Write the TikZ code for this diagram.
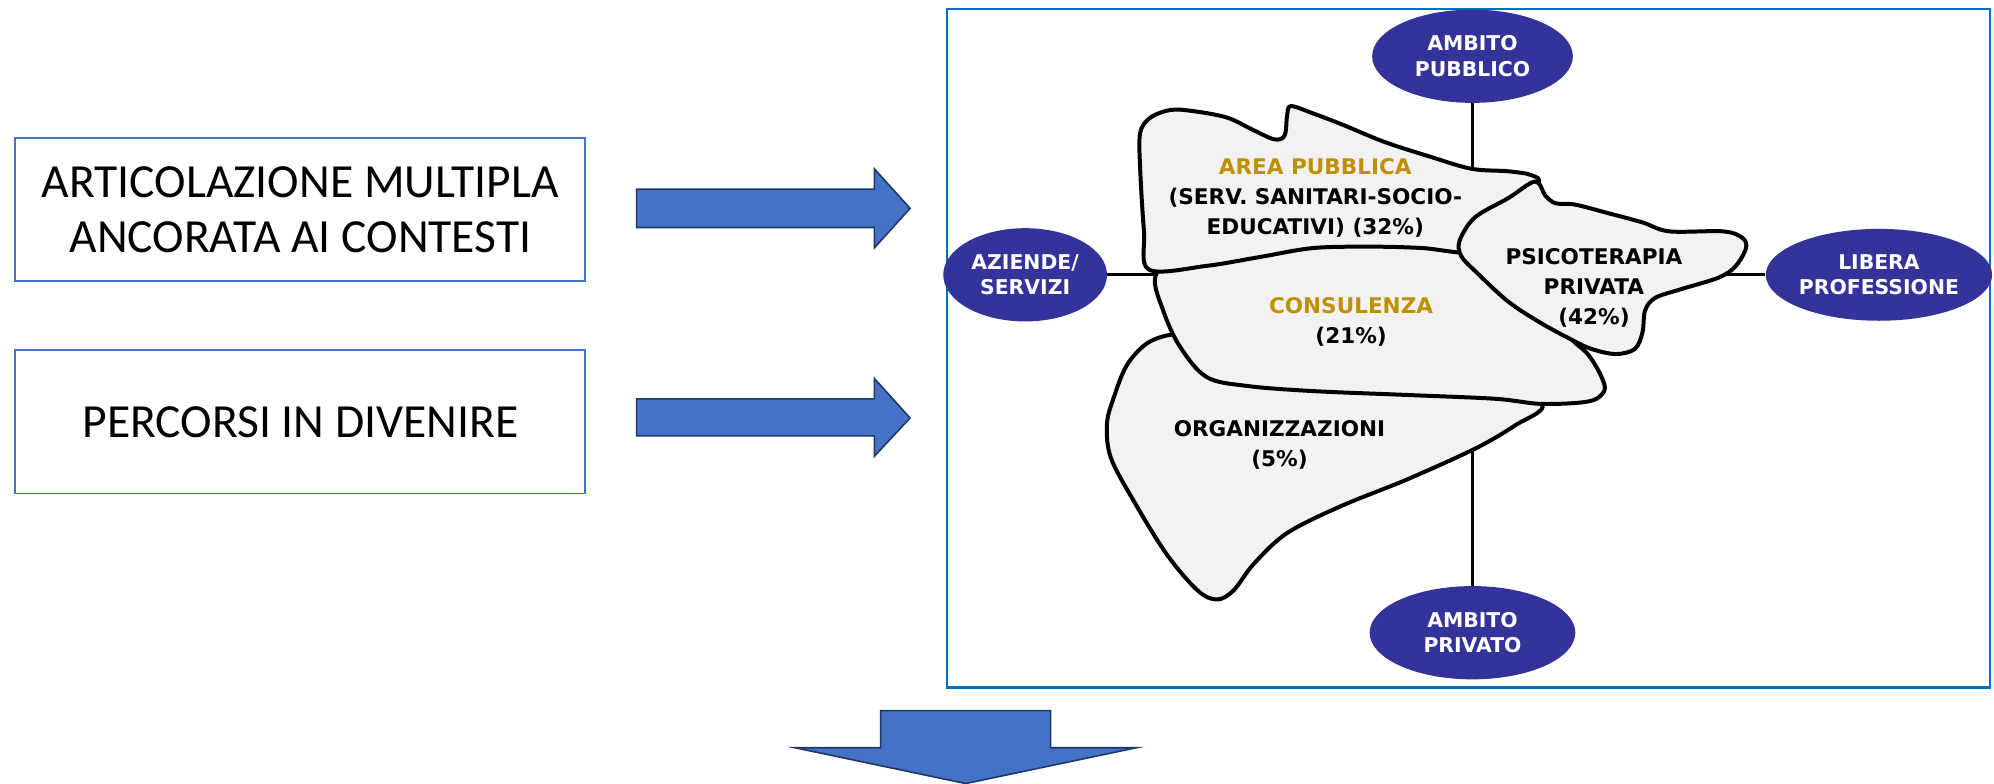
\documentclass[tikz,border=0pt]{standalone}
\usepackage{fontspec}
\setmainfont{Carlito}
\newfontfamily\blobfont{DejaVu Sans}
\usetikzlibrary{shapes.geometric,backgrounds}
\definecolor{arrowblue}{HTML}{4472C4}
\definecolor{arrowedge}{HTML}{1F3864}
\definecolor{frameblue}{HTML}{0070C0}
\definecolor{ambitoblue}{HTML}{333399}
\definecolor{areagold}{HTML}{BF9000}
\definecolor{blobgray}{HTML}{F2F2F2}
\tikzset{
  textbox/.style={draw=arrowblue, line width=0.9pt, minimum width=285.4pt, minimum height=71.7pt, align=center, font=\fontsize{23.8}{27.8}\selectfont},
  blockarrow/.style={fill=arrowblue, draw=arrowedge, line width=0.8pt, line join=miter},
  ambito/.style={ellipse, fill=ambitoblue, text=white, inner sep=0pt, align=center, font=\blobfont\bfseries\fontsize{10.2}{12.7}\selectfont},
  area/.style={fill=blobgray, draw=black, line width=2pt, line join=round},
  arealabel/.style={align=center, font=\blobfont\bfseries\fontsize{10.8}{15}\selectfont},
  axis/.style={draw=black, line width=1.65pt}
}
\begin{document}
\begin{tikzpicture}[x=0.64pt, y=-0.64pt]
\useasboundingbox (0,0) rectangle (1560,612.6);

\node[textbox] (articolazione) at (235,164) {ARTICOLAZIONE MULTIPLA\\ANCORATA AI CONTESTI};
\node[textbox] (percorsi) at (235,330) {PERCORSI IN DIVENIRE};

\draw[blockarrow] (498,148) -- (684,148) -- (684,132) -- (712,163) -- (684,194) -- (684,178) -- (498,178) -- cycle;
\draw[blockarrow] (498,312) -- (684,312) -- (684,296) -- (712,327) -- (684,357) -- (684,341) -- (498,341) -- cycle;
\draw[blockarrow] (689,556) -- (822,556) -- (822,585) -- (889,585) -- (755.5,613) -- (622,585) -- (689,585) -- cycle;

\draw[frameblue, line width=1.2pt] (741,7) rectangle (1557,538);

\node[ambito, minimum width=100.5pt, minimum height=46.7pt] (pubblico) at (1152,44) {AMBITO\\PUBBLICO};
\node[ambito, minimum width=103pt, minimum height=46.7pt] (privato) at (1152,495) {AMBITO\\PRIVATO};
\node[ambito, minimum width=82pt, minimum height=46.7pt] (aziende) at (802,215) {AZIENDE/\\SERVIZI};
\node[ambito, minimum width=110pt, minimum height=46pt] (libera) at (1470,215) {LIBERA\\PROFESSIONE};

\draw[area] plot[smooth cycle, tension=0.55] coordinates {(925,262) (900,267) (882,285) (871,312) (866,332) (869,358) (887,392) (913,434) (937,462) (952,469) (965,462) (981,441) (1007,417) (1049,396) (1101,375) (1154,351) (1185,333) (1206,316) (1150,298) (1000,290) (945,278)};
\draw[area] plot[smooth cycle, tension=0.55] coordinates {(904,216) (910,243) (923,271) (944,295) (976,302) (1028,306) (1101,309) (1170,312) (1206,316) (1243,314) (1255,306) (1253,295) (1243,278) (1230,266) (1195,232) (1152,199) (1090,184) (1000,189) (925,198)};
\draw[area] plot[smooth cycle, tension=0.55] coordinates {(899,211) (895,181) (892,132) (892,104) (900,92) (916,86) (934,87) (960,92) (981,102) (997,109) (1005,106) (1007,90) (1010,83) (1028,89) (1049,97) (1083,111) (1117,122) (1151,132) (1180,134) (1198,137) (1203,144) (1176,170) (1160,197) (1112,194) (1075,193) (1028,194) (986,201) (944,208)};
\draw[area] plot[smooth cycle, tension=0.55] coordinates {(1201,142) (1209,153) (1217,159) (1232,160) (1259,167) (1285,174) (1306,181) (1348,181) (1363,186) (1366,194) (1358,208) (1345,217) (1316,226) (1295,233) (1287,243) (1285,260) (1279,273) (1264,277) (1245,273) (1230,266) (1206,253) (1180,236) (1154,212) (1143,200) (1142,188) (1154,170) (1180,155)};

\node[arealabel] (pubblica) at (1029,155) {\textcolor{areagold}{AREA PUBBLICA}\\(SERV. SANITARI-SOCIO-\\EDUCATIVI) (32\%)};
\node[arealabel] (consulenza) at (1057,252) {\textcolor{areagold}{CONSULENZA}\\(21\%)};
\node[arealabel] (psicoterapia) at (1247,225) {PSICOTERAPIA\\PRIVATA\\(42\%)};
\node[arealabel] (organizzazioni) at (1001,348) {ORGANIZZAZIONI\\(5\%)};

\begin{scope}[on background layer]
\draw[axis] (pubblico) -- (privato);
\draw[axis] (aziende) -- (libera);
\end{scope}
\end{tikzpicture}
\end{document}
